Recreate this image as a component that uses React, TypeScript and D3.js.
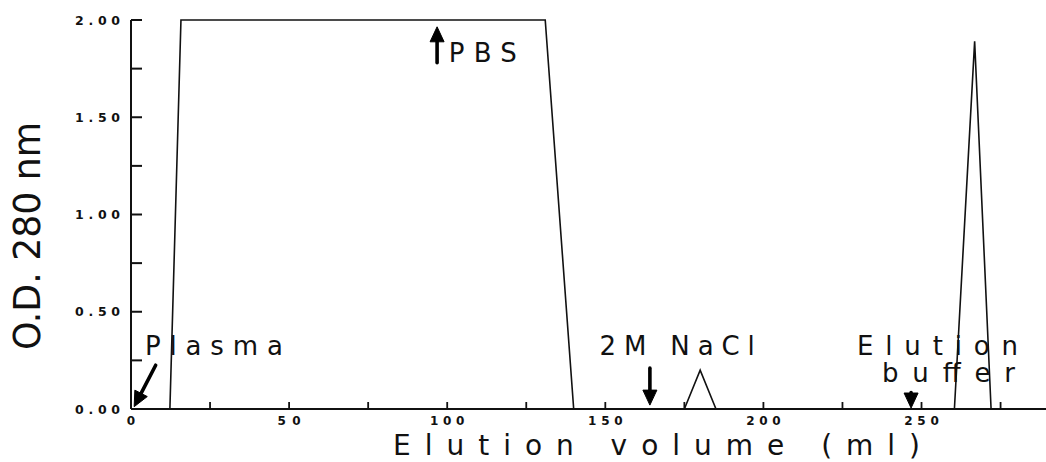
import React from "react";
import * as d3 from "d3";

// ---- data ----
const volume = [0, 12.3, 15.8, 131, 140, 175, 180, 185, 260.4, 266.8, 272, 290];
const od = [0, 0, 2.0, 2.0, 0, 0, 0.2, 0, 0, 1.89, 0, 0];

const yTicks = [0, 0.25, 0.5, 0.75, 1.0, 1.25, 1.5, 1.75, 2.0];
const yTickLabels = ["0.00", "", "0.50", "", "1.00", "", "1.50", "", "2.00"];
const xTicks = [0, 25, 50, 75, 100, 125, 150, 175, 200, 225, 250, 275];
const xTickLabels = ["0", "", "50", "", "100", "", "150", "", "200", "", "250", ""];

// annotation texts and their anchor positions (data units)
const annoLabels = ["Plasma", "PBS", "2M NaCl", "Elution", "buffer"];
const annoX = [4.4, 100.5, 148.2, 229.6, 237.5];
const annoY = [0.28, 1.785, 0.28, 0.28, 0.138];
const annoLen = [138, 68, 155, 161, 133];

const arrowFrom: [number, number][] = [[7.8, 0.225], [96.8, 1.78], [164.1, 0.21], [246.7, 0.085]];
const arrowTo: [number, number][] = [[1.0, 0.012], [96.8, 1.965], [164.1, 0.02], [246.7, 0.005]];

const W = 1046;
const H = 462;

export default function App() {
  const x = d3.scaleLinear().domain([0, 290]).range([131, 1048]);
  const y = d3.scaleLinear().domain([0, 2]).range([409, 20]);

  const line = d3
    .line<number>()
    .x((_, i) => x(volume[i]))
    .y((d) => y(d));

  const plotFont = "'DejaVu Sans', 'Liberation Sans', sans-serif";

  const arrow = (from: [number, number], to: [number, number], k: number) => {
    const x1 = x(from[0]), y1 = y(from[1]);
    const x2 = x(to[0]), y2 = y(to[1]);
    const ang = Math.atan2(y2 - y1, x2 - x1);
    const hl = 15, hw = 7;
    const bx = x2 - hl * Math.cos(ang), by = y2 - hl * Math.sin(ang);
    const px = -Math.sin(ang) * hw, py = Math.cos(ang) * hw;
    return (
      <g key={`arr${k}`}>
        <line x1={x1} y1={y1} x2={bx} y2={by} stroke="#000" strokeWidth={3.6} strokeLinecap="round" />
        <polygon
          points={`${x2},${y2} ${bx + px},${by + py} ${bx - px},${by - py}`}
          fill="#000"
          stroke="#000"
          strokeWidth={1}
          strokeLinejoin="round"
        />
      </g>
    );
  };

  return (
    <svg width={W} height={H} style={{ position: "absolute", left: 0, top: 0, background: "#fff" }}>
      <rect width={W} height={H} fill="#fff" />
      {/* y axis */}
      <line x1={x(0)} x2={x(0)} y1={y(0)} y2={y(2)} stroke="#111" strokeWidth={2} />
      {yTicks.map((t, i) => (
        <g key={`yt${i}`}>
          <line x1={x(0)} x2={x(0) + 11} y1={y(t)} y2={y(t)} stroke="#111" strokeWidth={2} />
          {yTickLabels[i] && (
            <text
              x={120}
              y={y(t) + 4.5}
              textAnchor="end"
              fontFamily={plotFont}
              fontWeight="bold"
              fontSize={12.5}
              textLength={45}
              lengthAdjust="spacing"
              fill="#111"
            >
              {yTickLabels[i]}
            </text>
          )}
        </g>
      ))}
      {/* x axis */}
      <line x1={x(0)} x2={W} y1={y(0)} y2={y(0)} stroke="#111" strokeWidth={2} />
      {xTicks.map((t, i) => (
        <g key={`xt${i}`}>
          <line x1={x(t)} x2={x(t)} y1={y(0)} y2={y(0) - 7} stroke="#111" strokeWidth={1.8} />
          {xTickLabels[i] && (
            <text
              x={x(t)}
              y={425}
              textAnchor="middle"
              fontFamily={plotFont}
              fontWeight="bold"
              fontSize={12}
              textLength={xTickLabels[i].length * 11.5}
              lengthAdjust="spacing"
              fill="#111"
            >
              {xTickLabels[i]}
            </text>
          )}
        </g>
      ))}
      {/* trace */}
      <path d={line(od) || ""} fill="none" stroke="#111" strokeWidth={1.6} strokeLinejoin="miter" />
      {/* annotations */}
      {annoLabels.map((s, i) => (
        <text
          key={`an${i}`}
          x={x(annoX[i])}
          y={y(annoY[i])}
          fontFamily={plotFont}
          fontSize={26}
          textLength={annoLen[i]}
          lengthAdjust="spacing"
          fill="#111"
        >
          {s}
        </text>
      ))}
      {arrowFrom.map((f, i) => arrow(f, arrowTo[i], i))}
      {/* axis titles */}
      <text
        x={393}
        y={455}
        fontFamily={plotFont}
        fontSize={28}
        textLength={527}
        lengthAdjust="spacing"
        fill="#111"
      >
        Elution volume (ml)
      </text>
      <text
        transform="translate(40,350) rotate(-90)"
        x={0}
        y={0}
        fontFamily="'DejaVu Sans Condensed', 'Liberation Sans Narrow', 'DejaVu Sans', sans-serif"
        fontStretch="condensed"
        fontSize={38}
        textLength={228}
        lengthAdjust="spacingAndGlyphs"
        fill="#111"
      >
        O.D. 280 nm
      </text>
    </svg>
  );
}
